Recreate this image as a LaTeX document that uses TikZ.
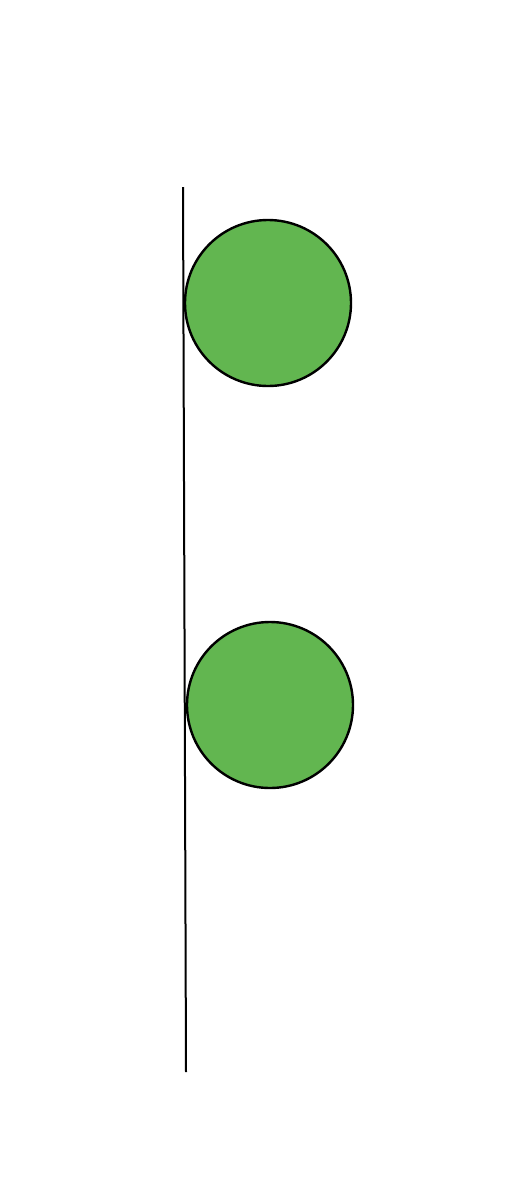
\documentclass[tikz,border=0pt]{standalone}
\usepackage{tikz}
\usetikzlibrary{calc}
\definecolor{ballgreen}{RGB}{98,182,80}

\begin{document}
\begin{tikzpicture}[x=1pt,y=-1pt,
        ball/.style={circle,draw=black,line width=2.4pt,fill=ballgreen,
            minimum size=166pt,inner sep=0pt}]
        \useasboundingbox (0,0) rectangle (508,1200);

        \coordinate (top) at (183,187); \coordinate (bottom) at (186,1072);
        \draw[line width=2pt] (top) -- (bottom);

        \node[ball] (upper) at (268,303) {};
        \node[ball] (lower) at (270,705) {};
    \end{tikzpicture}
\end{document}
